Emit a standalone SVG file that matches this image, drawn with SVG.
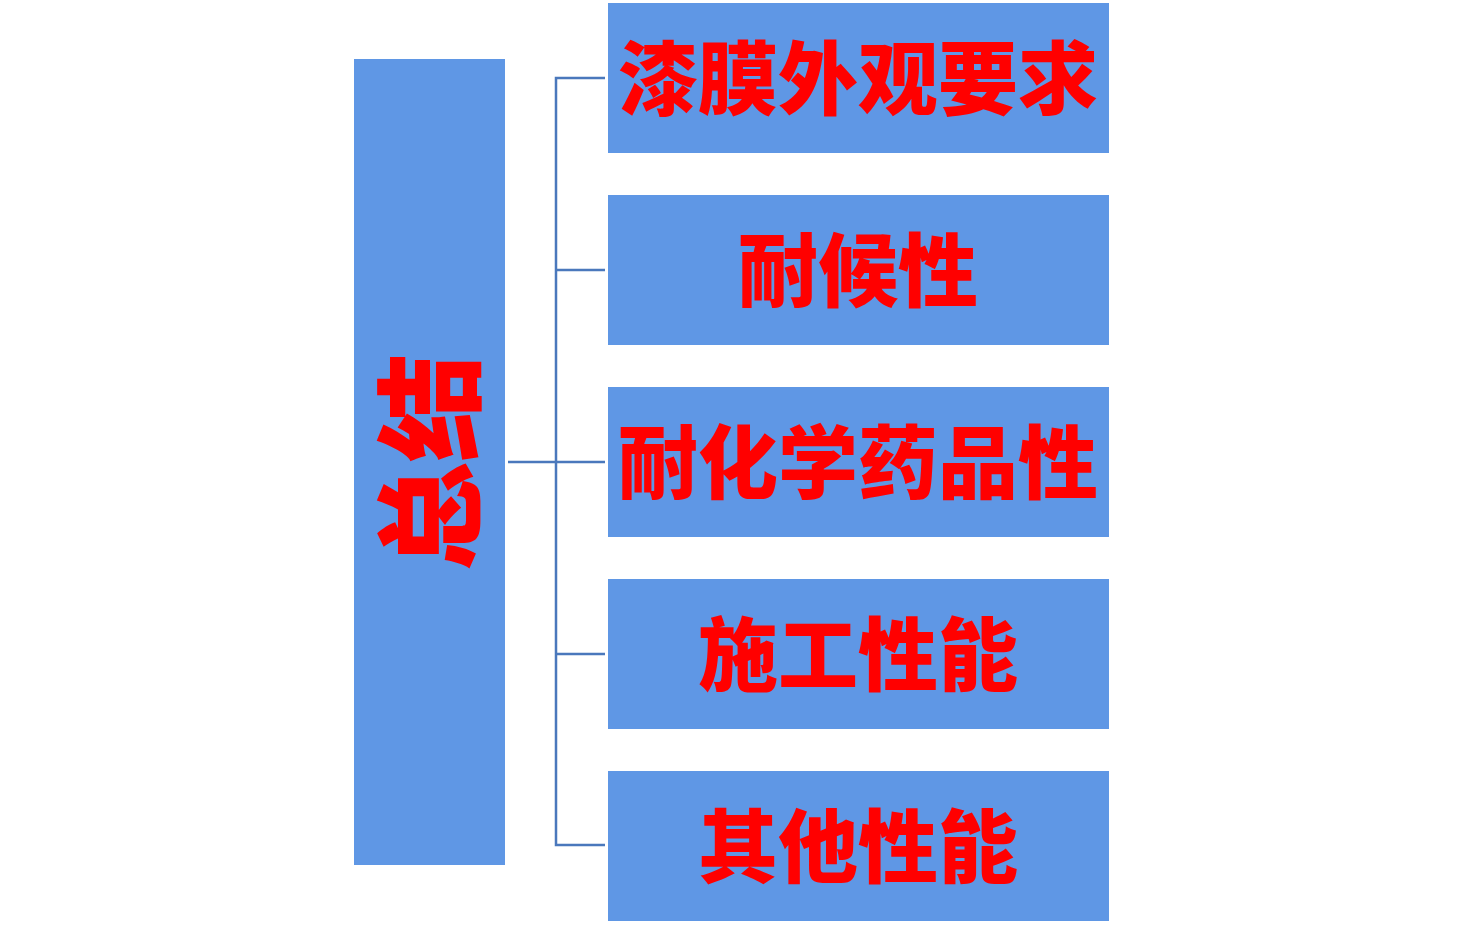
<svg xmlns="http://www.w3.org/2000/svg" width="1464" height="925" viewBox="0 0 1464 925">
<style>
.box{fill:#5f97e5}
.t{font-family:"Noto Sans CJK SC","Noto Sans CJK JP",sans-serif;font-weight:900;fill:#ff0000;text-anchor:middle;dominant-baseline:central;font-size:80px}
.c{stroke:#4a78bc;stroke-width:2.5;fill:none}
</style>
<rect width="1464" height="925" fill="#ffffff"/>
<g id="connectors">
<path class="c" d="M605 78H556V845H605M556 270H605M508 462H605M556 654H605"/>
</g>
<g id="root">
<rect class="box" x="354" y="59" width="151" height="806"/>
<text class="t" style="font-size:109px" transform="translate(423 462) rotate(-90)">总结</text>
</g>
<g id="n1"><rect class="box" x="608" y="3" width="501" height="150"/><text class="t" x="858" y="73">漆膜外观要求</text></g>
<g id="n2"><rect class="box" x="608" y="195" width="501" height="150"/><text class="t" x="858" y="265">耐候性</text></g>
<g id="n3"><rect class="box" x="608" y="387" width="501" height="150"/><text class="t" x="858" y="457">耐化学药品性</text></g>
<g id="n4"><rect class="box" x="608" y="579" width="501" height="150"/><text class="t" x="858" y="649">施工性能</text></g>
<g id="n5"><rect class="box" x="608" y="771" width="501" height="150"/><text class="t" x="858" y="841">其他性能</text></g>
</svg>
